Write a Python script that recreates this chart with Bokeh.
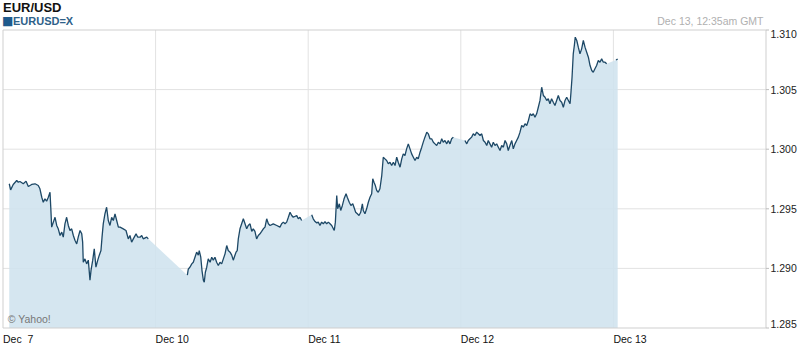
from bokeh.plotting import figure
from bokeh.models import Label, Range1d
from bokeh.embed import file_html
from bokeh.resources import INLINE

# ---- data (x = trading-day position, 0 = Dec 7 ... 4 = Dec 13) ----
day_ticks = [0, 1, 2, 3, 4]
day_labels = ["Dec\u00a0 7", "Dec 10", "Dec 11", "Dec 12", "Dec 13"]
rate_ticks = [1.285, 1.290, 1.295, 1.300, 1.305, 1.310]
rate_labels = ["1.285", "1.290", "1.295", "1.300", "1.305", "1.310"]

dec7_t = [0.041, 0.050, 0.067, 0.090, 0.100, 0.111, 0.133, 0.151, 0.166, 0.188,
          0.210, 0.231, 0.242, 0.254, 0.264, 0.275, 0.286, 0.297, 0.308, 0.313,
          0.319, 0.330, 0.341, 0.352, 0.362, 0.374, 0.385, 0.395, 0.406, 0.417,
          0.428, 0.439, 0.450, 0.461, 0.472, 0.483, 0.493, 0.505, 0.516, 0.522,
          0.526, 0.537, 0.548, 0.559, 0.570, 0.577, 0.588, 0.598, 0.609, 0.621,
          0.631, 0.642, 0.649, 0.657, 0.668, 0.679, 0.690, 0.701, 0.712, 0.723,
          0.734, 0.745, 0.756, 0.767, 0.788, 0.806, 0.821, 0.832, 0.843, 0.854,
          0.872, 0.883, 0.898, 0.909, 0.919, 0.942, 0.952]
dec7_rate = [1.29710, 1.29659, 1.29704, 1.29737, 1.29723, 1.29729, 1.29710, 1.29732, 1.29687, 1.29704,
             1.29710, 1.29695, 1.29668, 1.29597, 1.29555, 1.29584, 1.29564, 1.29597, 1.29639, 1.29513,
             1.29346, 1.29388, 1.29429, 1.29360, 1.29332, 1.29276, 1.29304, 1.29262, 1.29374, 1.29429,
             1.29360, 1.29318, 1.29332, 1.29276, 1.29234, 1.29206, 1.29262, 1.29318, 1.29290, 1.29220,
             1.29052, 1.29080, 1.29038, 1.29069, 1.28901, 1.28985, 1.29069, 1.29164, 1.29010, 1.29069,
             1.29111, 1.29150, 1.29262, 1.29374, 1.29458, 1.29513, 1.29402, 1.29360, 1.29429, 1.29402,
             1.29458, 1.29402, 1.29346, 1.29346, 1.29332, 1.29318, 1.29248, 1.29276, 1.29220, 1.29248,
             1.29290, 1.29262, 1.29262, 1.29276, 1.29248, 1.29262, 1.29248]

dec10_t = [1.208, 1.214, 1.225, 1.237, 1.247, 1.258, 1.269, 1.280, 1.286, 1.296,
           1.304, 1.313, 1.319, 1.326, 1.335, 1.345, 1.357, 1.368, 1.378, 1.389,
           1.400, 1.411, 1.422, 1.433, 1.444, 1.455, 1.466, 1.476, 1.488, 1.499,
           1.509, 1.520, 1.527, 1.535, 1.542, 1.553, 1.564, 1.575, 1.586, 1.597,
           1.607, 1.619, 1.630, 1.640, 1.651, 1.662, 1.673, 1.684, 1.695, 1.706,
           1.717, 1.728, 1.739, 1.750, 1.771, 1.794, 1.815, 1.826, 1.837, 1.848,
           1.859, 1.870, 1.881, 1.892, 1.902, 1.925, 1.935, 1.946, 1.957]
dec10_rate = [1.28943, 1.28993, 1.29010, 1.29038, 1.29052, 1.29094, 1.29136, 1.29111, 1.29150, 1.29094,
              1.28982, 1.28901, 1.28884, 1.28968, 1.29010, 1.29080, 1.29052, 1.29094, 1.29069, 1.29094,
              1.29052, 1.29024, 1.29052, 1.29038, 1.29080, 1.29122, 1.29192, 1.29150, 1.29136, 1.29111,
              1.29069, 1.29111, 1.29136, 1.29150, 1.29248, 1.29332, 1.29374, 1.29416, 1.29374, 1.29332,
              1.29360, 1.29374, 1.29310, 1.29332, 1.29310, 1.29248, 1.29276, 1.29290, 1.29310, 1.29332,
              1.29346, 1.29416, 1.29374, 1.29360, 1.29374, 1.29360, 1.29346, 1.29374, 1.29388, 1.29374,
              1.29388, 1.29429, 1.29471, 1.29444, 1.29429, 1.29444, 1.29416, 1.29429, 1.29402]

dec11_t = [2.023, 2.033, 2.045, 2.056, 2.066, 2.077, 2.088, 2.099, 2.110, 2.121,
           2.132, 2.143, 2.154, 2.165, 2.171, 2.178, 2.187, 2.193, 2.204, 2.213,
           2.224, 2.235, 2.248, 2.256, 2.269, 2.280, 2.292, 2.300, 2.311, 2.322,
           2.333, 2.344, 2.355, 2.361, 2.372, 2.383, 2.394, 2.405, 2.416, 2.423,
           2.431, 2.440, 2.449, 2.459, 2.470, 2.482, 2.492, 2.503, 2.514, 2.525,
           2.536, 2.547, 2.558, 2.569, 2.580, 2.590, 2.602, 2.613, 2.623, 2.634,
           2.645, 2.656, 2.667, 2.678, 2.689, 2.700, 2.711, 2.721, 2.733, 2.744,
           2.754, 2.765, 2.777, 2.787, 2.798, 2.809, 2.820, 2.831, 2.842, 2.853,
           2.864, 2.875, 2.885, 2.896, 2.908, 2.918, 2.929, 2.940, 2.951]
dec11_rate = [1.29450, 1.29416, 1.29393, 1.29382, 1.29388, 1.29360, 1.29388, 1.29374, 1.29393, 1.29374,
              1.29388, 1.29374, 1.29360, 1.29332, 1.29318, 1.29388, 1.29612, 1.29500, 1.29542, 1.29486,
              1.29528, 1.29584, 1.29626, 1.29597, 1.29555, 1.29528, 1.29542, 1.29513, 1.29471, 1.29458,
              1.29444, 1.29471, 1.29542, 1.29486, 1.29458, 1.29500, 1.29555, 1.29597, 1.29626, 1.29752,
              1.29723, 1.29695, 1.29653, 1.29639, 1.29668, 1.29779, 1.29933, 1.29919, 1.29905, 1.29878,
              1.29891, 1.29863, 1.29891, 1.29863, 1.29933, 1.29891, 1.29849, 1.29919, 1.29961, 1.29947,
              1.30003, 1.30045, 1.30003, 1.29961, 1.29933, 1.29905, 1.29933, 1.29919, 1.29975, 1.30017,
              1.30059, 1.30101, 1.30143, 1.30129, 1.30087, 1.30087, 1.30059, 1.30045, 1.30031, 1.30059,
              1.30045, 1.30087, 1.30059, 1.30073, 1.30045, 1.30073, 1.30045, 1.30087, 1.30101]

dec12_t = [3.027, 3.039, 3.049, 3.060, 3.071, 3.082, 3.093, 3.104, 3.115, 3.126,
           3.137, 3.148, 3.159, 3.170, 3.180, 3.191, 3.202, 3.213, 3.224, 3.235,
           3.246, 3.257, 3.268, 3.279, 3.290, 3.301, 3.311, 3.322, 3.334, 3.344,
           3.355, 3.366, 3.377, 3.388, 3.399, 3.410, 3.421, 3.432, 3.443, 3.454,
           3.465, 3.475, 3.486, 3.497, 3.508, 3.519, 3.530, 3.541, 3.552, 3.563,
           3.573, 3.584, 3.595, 3.606, 3.617, 3.628, 3.639, 3.650, 3.661, 3.672,
           3.683, 3.694, 3.705, 3.716, 3.722, 3.729, 3.737, 3.744, 3.750, 3.760,
           3.770, 3.781, 3.792, 3.803, 3.814, 3.825, 3.836, 3.847, 3.858, 3.868,
           3.879, 3.890, 3.901, 3.912, 3.923, 3.934, 3.945, 3.956]
dec12_rate = [1.30073, 1.30045, 1.30073, 1.30087, 1.30101, 1.30129, 1.30115, 1.30143, 1.30129, 1.30115,
              1.30129, 1.30073, 1.30059, 1.30031, 1.30073, 1.30045, 1.30017, 1.30059, 1.30031, 1.30045,
              1.30017, 1.29989, 1.30031, 1.30017, 1.30073, 1.30045, 1.29989, 1.30031, 1.30073, 1.30003,
              1.30045, 1.30073, 1.30101, 1.30143, 1.30199, 1.30185, 1.30213, 1.30199, 1.30241, 1.30297,
              1.30283, 1.30297, 1.30268, 1.30297, 1.30352, 1.30409, 1.30520, 1.30451, 1.30436, 1.30409,
              1.30423, 1.30381, 1.30423, 1.30394, 1.30367, 1.30409, 1.30451, 1.30409, 1.30394, 1.30352,
              1.30409, 1.30436, 1.30409, 1.30381, 1.30478, 1.30604, 1.30800, 1.30870, 1.30940, 1.30912,
              1.30856, 1.30800, 1.30842, 1.30912, 1.30856, 1.30814, 1.30772, 1.30702, 1.30660, 1.30646,
              1.30675, 1.30702, 1.30744, 1.30730, 1.30758, 1.30730, 1.30730, 1.30717]

dec13_t = [4.017, 4.028]
dec13_rate = [1.30748, 1.30757]

sessions = [(dec7_t, dec7_rate), (dec10_t, dec10_rate), (dec11_t, dec11_rate),
            (dec12_t, dec12_rate), (dec13_t, dec13_rate)]

# ---- build series ----
line_x, line_y, fill_x, fill_y = [], [], [], []
for i, (t, r) in enumerate(sessions):
    if i:
        line_x.append(float("nan"))
        line_y.append(float("nan"))
    line_x += t
    line_y += r
    fill_x += t
    fill_y += r

# ---- layout: the frame covers the whole canvas, the chart area sits inside ----
W, H = 799, 355
AREA_L, AREA_R, AREA_T, AREA_B = 2.5, 765.5, 29.5, 327.5      # chart area in canvas px
x0, x1 = 0.0, 5.0                                             # visible trading days
y0, y1 = rate_ticks[0], rate_ticks[-1]
ppd = (AREA_R - AREA_L) / (x1 - x0)
ppu = (AREA_B - AREA_T) / (y1 - y0)

FONT = "Liberation Sans"
GRID = "#e2e2e2"
CENTRAL = 0.3465   # em offset from baseline to the vertical text centre

p = figure(width=W, height=H, output_backend="svg", toolbar_location=None,
           x_range=Range1d(x0 - AREA_L / ppd, x1 + (W - AREA_R) / ppd),
           y_range=Range1d(y0 - (H - AREA_B) / ppu, y1 + AREA_T / ppu),
           x_axis_location=None, y_axis_location=None,
           min_border=0, min_border_left=0, min_border_right=0,
           min_border_top=0, min_border_bottom=0)
p.grid.visible = False
p.outline_line_color = None
p.background_fill_color = "white"
p.border_fill_color = "white"


def text(x, baseline_px, s, size, color, align="left", bold=False, font=FONT):
    """Place a text so that its baseline sits at canvas row baseline_px (x in canvas px)."""
    centre = baseline_px - CENTRAL * size
    p.add_layout(Label(x=x, y=H - centre, x_units="screen", y_units="screen", text=s,
                       text_align=align, text_baseline="middle", text_font=font,
                       text_font_size=f"{size}px", text_color=color,
                       text_font_style="bold" if bold else "normal"))


# grid lines (inner ticks), drawn under the area fill
p.segment(x0=day_ticks[1:], y0=y0, x1=day_ticks[1:], y1=y1, line_color=GRID, line_width=1)
p.segment(x0=x0, y0=rate_ticks[1:-1], x1=x1, y1=rate_ticks[1:-1], line_color=GRID, line_width=1)

# area + price line
p.varea(x=fill_x, y1=fill_y, y2=y0, fill_color="#cfe2ee", fill_alpha=0.88)
p.line(x=line_x, y=line_y, line_color="#1d4866", line_width=1.3)

# chart border
p.quad(left=[x0], right=[x1], bottom=[y0], top=[y1], fill_color=None,
       line_color="#cfcfcf", line_width=1)

# right-hand tick marks
p.segment(x0=x1, y0=rate_ticks, x1=x1 + 3 / ppd, y1=rate_ticks, line_color="#bdbdbd", line_width=1)

# y tick labels: centred on their gridlines, top one hangs below, bottom one sits on the border
for i, (v, lab) in enumerate(zip(rate_ticks, rate_labels)):
    p.add_layout(Label(x=x1 + 4.5 / ppd, y=v, text=lab, text_align="left",
                       text_baseline="middle", text_font=FONT, text_font_size="10.5px",
                       text_color="#222222",
                       y_offset=(-3.6 if i == len(rate_ticks) - 1 else (3.6 if i == 0 else 0))))

# x tick labels (left-aligned at the gridlines)
for d, lab in zip(day_ticks, day_labels):
    p.add_layout(Label(x=d, y=y0, y_offset=-(14.2 - CENTRAL * 10.5), text=lab,
                       text_align="left", text_baseline="middle", text_font=FONT,
                       text_font_size="10.5px", text_color="#111111"))

# header
text(2.5, 12, "EUR/USD", 13, "#111111", bold=True)
p.add_layout(Label(x=1.6, y=H - 20, x_units="screen", y_units="screen", text="\u25a0",
                   text_baseline="middle", text_font="DejaVu Sans", text_font_size="12px",
                   text_color="#1f5a8c"))
text(12.5, 24, "EURUSD=X", 11, "#2d6189", bold=True)
text(763, 24, "Dec 13, 12:35am GMT", 10.5, "#b0b0b0", align="right")
text(7.3, 322, "\u00a9 Yahoo!", 10.5, "#777777")

open("out.html", "w").write(file_html(p, INLINE))
